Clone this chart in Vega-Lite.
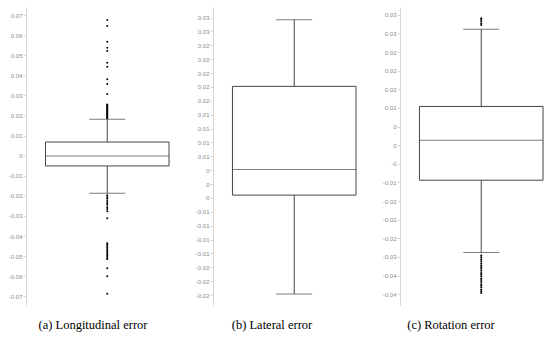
{
  "$schema": "https://vega.github.io/schema/vega-lite/v6.json",
  "padding": {"left": 8, "top": 7, "right": 0, "bottom": 0},
  "spacing": 19,
  "config": {
    "view": {"stroke": null},
    "axisY": {"domainColor": "#d6d6d6", "tickColor": "#d6d6d6", "labelColor": "#8a8a8a", "labelFont": "Liberation Sans", "labelFontSize": 6, "tickSize": 3, "labelPadding": 1, "labelOverlap": false, "labelBound": false, "tickCount": 40, "grid": false, "title": null},
    "title": {"font": "Liberation Serif", "fontSize": 12.5, "fontWeight": "normal", "color": "#000", "orient": "bottom", "anchor": "middle", "offset": 14}
  },
  "datasets": {
    "summary": [
      {"panel": "A", "lo": -0.0187, "q1": -0.0051, "median": -0.0002, "q3": 0.0068, "hi": 0.0181},
      {"panel": "B", "lo": -0.0198, "q1": -0.0020, "median": 0.0026, "q3": 0.0176, "hi": 0.0296},
      {"panel": "C", "lo": -0.0288, "q1": -0.0094, "median": 0.0013, "q3": 0.0104, "hi": 0.0311}
    ],
    "outliers": [
      {"panel": "A", "value": 0.0675}, {"panel": "A", "value": 0.0645}, {"panel": "A", "value": 0.0567}, {"panel": "A", "value": 0.0537}, {"panel": "A", "value": 0.0521}, {"panel": "A", "value": 0.0463}, {"panel": "A", "value": 0.0443}, {"panel": "A", "value": 0.0380}, {"panel": "A", "value": 0.0357}, {"panel": "A", "value": 0.0307},
      {"panel": "A", "value": 0.0255}, {"panel": "A", "value": 0.0251}, {"panel": "A", "value": 0.0246}, {"panel": "A", "value": 0.0243}, {"panel": "A", "value": 0.0238}, {"panel": "A", "value": 0.0235}, {"panel": "A", "value": 0.0230}, {"panel": "A", "value": 0.0226}, {"panel": "A", "value": 0.0223}, {"panel": "A", "value": 0.0218}, {"panel": "A", "value": 0.0214}, {"panel": "A", "value": 0.0211}, {"panel": "A", "value": 0.0206}, {"panel": "A", "value": 0.0202}, {"panel": "A", "value": 0.0199}, {"panel": "A", "value": 0.0194}, {"panel": "A", "value": 0.0190}, {"panel": "A", "value": 0.0186},
      {"panel": "A", "value": -0.0197}, {"panel": "A", "value": -0.0205}, {"panel": "A", "value": -0.0214}, {"panel": "A", "value": -0.0226}, {"panel": "A", "value": -0.0235}, {"panel": "A", "value": -0.0244}, {"panel": "A", "value": -0.0256}, {"panel": "A", "value": -0.0265}, {"panel": "A", "value": -0.0277}, {"panel": "A", "value": -0.0311},
      {"panel": "A", "value": -0.0436}, {"panel": "A", "value": -0.0443}, {"panel": "A", "value": -0.0450}, {"panel": "A", "value": -0.0458}, {"panel": "A", "value": -0.0466}, {"panel": "A", "value": -0.0474}, {"panel": "A", "value": -0.0481}, {"panel": "A", "value": -0.0489}, {"panel": "A", "value": -0.0496}, {"panel": "A", "value": -0.0503}, {"panel": "A", "value": -0.0510}, {"panel": "A", "value": -0.0514}, {"panel": "A", "value": -0.0560}, {"panel": "A", "value": -0.0600}, {"panel": "A", "value": -0.0687},
      {"panel": "C", "value": 0.0341}, {"panel": "C", "value": 0.0337}, {"panel": "C", "value": 0.0332}, {"panel": "C", "value": 0.0327}, {"panel": "C", "value": 0.0323},
      {"panel": "C", "value": -0.0296}, {"panel": "C", "value": -0.0301}, {"panel": "C", "value": -0.0306}, {"panel": "C", "value": -0.0311}, {"panel": "C", "value": -0.0317}, {"panel": "C", "value": -0.0322}, {"panel": "C", "value": -0.0327}, {"panel": "C", "value": -0.0332}, {"panel": "C", "value": -0.0337}, {"panel": "C", "value": -0.0343}, {"panel": "C", "value": -0.0347}, {"panel": "C", "value": -0.0352}, {"panel": "C", "value": -0.0358}, {"panel": "C", "value": -0.0362}, {"panel": "C", "value": -0.0367}, {"panel": "C", "value": -0.0373}, {"panel": "C", "value": -0.0377}, {"panel": "C", "value": -0.0382}, {"panel": "C", "value": -0.0388}, {"panel": "C", "value": -0.0392}, {"panel": "C", "value": -0.0397}
    ]
  },
  "hconcat": [
    {
      "width": 150, "height": 298,
      "title": {"text": "(a) Longitudinal error", "dx": -8},
      "layer": [
        {"data": {"name": "summary"}, "transform": [{"filter": "datum.panel === 'A'"}],
         "mark": {"type": "rule", "color": "#444", "strokeWidth": 1},
         "encoding": {
           "x": {"field": "panel", "type": "nominal", "axis": null, "scale": {"paddingInner": 0, "paddingOuter": 0.107, "align": 0.736}},
           "y": {"field": "lo", "type": "quantitative", "scale": {"domain": [-0.0743, 0.074], "nice": false, "zero": false},
                 "axis": {"title": null, "labelOverlap": false, "tickCount": 40, "values": [0.07, 0.06, 0.05, 0.04, 0.03, 0.02, 0.01, 0, -0.01, -0.02, -0.03, -0.04, -0.05, -0.06, -0.07],
                          "labelExpr": "(datum.value < -0.0001 ? '-' : '') + format(abs(datum.value), '.2~f')"}},
           "y2": {"field": "hi"}}},
        {"data": {"name": "summary"}, "transform": [{"filter": "datum.panel === 'A'"}],
         "mark": {"type": "bar", "fill": "white", "stroke": "#444", "strokeWidth": 1, "width": {"band": 1}},
         "encoding": {"x": {"field": "panel", "type": "nominal"}, "y": {"field": "q1", "type": "quantitative"}, "y2": {"field": "q3"}}},
        {"data": {"name": "summary"}, "transform": [{"filter": "datum.panel === 'A'"}],
         "mark": {"type": "tick", "color": "#444", "size": 123.5, "thickness": 1},
         "encoding": {"x": {"field": "panel", "type": "nominal"}, "y": {"field": "median", "type": "quantitative"}}},
        {"data": {"name": "summary"}, "transform": [{"filter": "datum.panel === 'A'"}],
         "mark": {"type": "tick", "color": "#444", "size": 36, "thickness": 1},
         "encoding": {"x": {"field": "panel", "type": "nominal"}, "y": {"field": "lo", "type": "quantitative"}}},
        {"data": {"name": "summary"}, "transform": [{"filter": "datum.panel === 'A'"}],
         "mark": {"type": "tick", "color": "#444", "size": 36, "thickness": 1},
         "encoding": {"x": {"field": "panel", "type": "nominal"}, "y": {"field": "hi", "type": "quantitative"}}},
        {"data": {"name": "outliers"}, "transform": [{"filter": "datum.panel === 'A'"}],
         "mark": {"type": "circle", "color": "#000", "size": 4, "opacity": 1},
         "encoding": {"x": {"field": "panel", "type": "nominal"}, "y": {"field": "value", "type": "quantitative"}}}
      ]
    },
    {
      "width": 150, "height": 298,
      "title": {"text": "(b) Lateral error", "dx": -16},
      "layer": [
        {"data": {"name": "summary"}, "transform": [{"filter": "datum.panel === 'B'"}],
         "mark": {"type": "rule", "color": "#444", "strokeWidth": 1},
         "encoding": {
           "x": {"field": "panel", "type": "nominal", "axis": null, "scale": {"paddingInner": 0, "paddingOuter": 0.107, "align": 0.736}},
           "y": {"field": "lo", "type": "quantitative", "scale": {"domain": [-0.0218, 0.0319], "nice": false, "zero": false},
                 "axis": {"title": null, "labelOverlap": false, "tickCount": 40, "values": [0.03, 0.0275, 0.025, 0.0225, 0.02, 0.0175, 0.015, 0.0125, 0.01, 0.0075, 0.005, 0.0025, 0, -0.0025, -0.005, -0.0075, -0.01, -0.0125, -0.015, -0.0175, -0.02],
                          "labelExpr": "['0.03','0.03','0.02','0.02','0.02','0.02','0.02','0.01','0.01','0.01','0.01','0','0','-0','-0.01','-0.01','-0.01','-0.01','-0.02','-0.02','-0.02'][round((0.03 - datum.value) / 0.0025)]"}},
           "y2": {"field": "hi"}}},
        {"data": {"name": "summary"}, "transform": [{"filter": "datum.panel === 'B'"}],
         "mark": {"type": "bar", "fill": "white", "stroke": "#444", "strokeWidth": 1, "width": {"band": 1}},
         "encoding": {"x": {"field": "panel", "type": "nominal"}, "y": {"field": "q1", "type": "quantitative"}, "y2": {"field": "q3"}}},
        {"data": {"name": "summary"}, "transform": [{"filter": "datum.panel === 'B'"}],
         "mark": {"type": "tick", "color": "#444", "size": 123.5, "thickness": 1},
         "encoding": {"x": {"field": "panel", "type": "nominal"}, "y": {"field": "median", "type": "quantitative"}}},
        {"data": {"name": "summary"}, "transform": [{"filter": "datum.panel === 'B'"}],
         "mark": {"type": "tick", "color": "#444", "size": 36, "thickness": 1},
         "encoding": {"x": {"field": "panel", "type": "nominal"}, "y": {"field": "lo", "type": "quantitative"}}},
        {"data": {"name": "summary"}, "transform": [{"filter": "datum.panel === 'B'"}],
         "mark": {"type": "tick", "color": "#444", "size": 36, "thickness": 1},
         "encoding": {"x": {"field": "panel", "type": "nominal"}, "y": {"field": "hi", "type": "quantitative"}}}
      ]
    },
    {
      "width": 150, "height": 298,
      "title": {"text": "(c) Rotation error", "dx": -24},
      "layer": [
        {"data": {"name": "summary"}, "transform": [{"filter": "datum.panel === 'C'"}],
         "mark": {"type": "rule", "color": "#444", "strokeWidth": 1},
         "encoding": {
           "x": {"field": "panel", "type": "nominal", "axis": null, "scale": {"paddingInner": 0, "paddingOuter": 0.107, "align": 0.736}},
           "y": {"field": "lo", "type": "quantitative", "scale": {"domain": [-0.0429, 0.0371], "nice": false, "zero": false},
                 "axis": {"title": null, "labelOverlap": false, "tickCount": 40, "values": [0.035, 0.03, 0.025, 0.02, 0.015, 0.01, 0.005, 0, -0.005, -0.01, -0.015, -0.02, -0.025, -0.03, -0.035, -0.04],
                          "labelExpr": "['0.03','0.03','0.02','0.02','0.02','0.01','0','0','-0','-0.01','-0.02','-0.02','-0.02','-0.03','-0.04','-0.04'][round((0.035 - datum.value) / 0.005)]"}},
           "y2": {"field": "hi"}}},
        {"data": {"name": "summary"}, "transform": [{"filter": "datum.panel === 'C'"}],
         "mark": {"type": "bar", "fill": "white", "stroke": "#444", "strokeWidth": 1, "width": {"band": 1}},
         "encoding": {"x": {"field": "panel", "type": "nominal"}, "y": {"field": "q1", "type": "quantitative"}, "y2": {"field": "q3"}}},
        {"data": {"name": "summary"}, "transform": [{"filter": "datum.panel === 'C'"}],
         "mark": {"type": "tick", "color": "#444", "size": 123.5, "thickness": 1},
         "encoding": {"x": {"field": "panel", "type": "nominal"}, "y": {"field": "median", "type": "quantitative"}}},
        {"data": {"name": "summary"}, "transform": [{"filter": "datum.panel === 'C'"}],
         "mark": {"type": "tick", "color": "#444", "size": 36, "thickness": 1},
         "encoding": {"x": {"field": "panel", "type": "nominal"}, "y": {"field": "lo", "type": "quantitative"}}},
        {"data": {"name": "summary"}, "transform": [{"filter": "datum.panel === 'C'"}],
         "mark": {"type": "tick", "color": "#444", "size": 36, "thickness": 1},
         "encoding": {"x": {"field": "panel", "type": "nominal"}, "y": {"field": "hi", "type": "quantitative"}}},
        {"data": {"name": "outliers"}, "transform": [{"filter": "datum.panel === 'C'"}],
         "mark": {"type": "circle", "color": "#000", "size": 4, "opacity": 1},
         "encoding": {"x": {"field": "panel", "type": "nominal"}, "y": {"field": "value", "type": "quantitative"}}}
      ]
    }
  ]
}
